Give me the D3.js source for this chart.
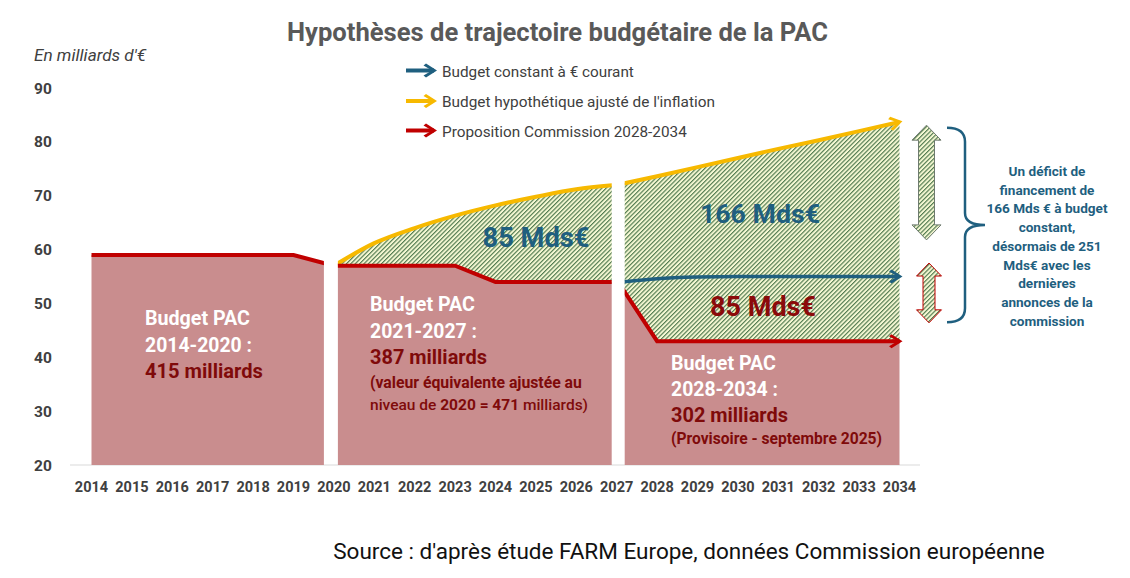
<!DOCTYPE html>
<html><head><meta charset="utf-8">
<script src="https://cdn.jsdelivr.net/npm/d3@7"></script>
<style>body{margin:0;background:#fff;} svg{display:block;font-family:Roboto,"Open Sans",sans-serif;}</style>
</head><body>
<svg id="c" width="1130" height="578"></svg>
<script>
// ---------- DATA ----------
const xTickYears = d3.range(2014, 2035);
const yTicks = [20, 30, 40, 50, 60, 70, 80, 90];

const p1Years = [2014, 2015, 2016, 2017, 2018, 2019, 2020];
const p1Commission = [59, 59, 59, 59, 59, 59, 57];

const p2Years = [2020, 2021, 2022, 2023, 2024, 2025, 2026, 2027];
const p2Commission = [57, 57, 57, 57, 54, 54, 54, 54];
const p2Inflation = [57, 61.2, 64, 66.3, 68.2, 69.8, 71.2, 72];

const p3Years = [2027, 2028, 2029, 2030, 2031, 2032, 2033, 2034];
const p3Commission = [54.4, 43, 43, 43, 43, 43, 43, 43];
const p3Inflation = [72, 73.6, 75.3, 77, 78.7, 80.3, 82, 83.7];
const p3Constant = [53.9, 54.6, 54.9, 55, 55, 55, 55, 55];

const legendLabels = ["Budget constant à € courant", "Budget hypothétique ajusté de l'inflation", "Proposition Commission 2028-2034"];
const gapArrowRanges = [[61.8, 83.1], [46.4, 57.5]];
const braceRange = [46.5, 82.6];
const noteLines = ["Un déficit de", "financement de", "166 Mds € à budget", "constant,", "désormais de 251", "Mds€ avec les", "dernières", "annonces de la", "commission"];

// ---------- STYLE ----------
const C = { red: "#c00000", yellow: "#f7b900", blue: "#1f5f7f", pink: "#c98d8e", darkred: "#7f0a0a", grayText: "#404040", title: "#595959" };

const svg = d3.select("#c");
const x = d3.scaleLinear().domain([2014, 2034]).range([91.5, 899.5]);
const y = d3.scaleLinear().domain([20, 90]).range([465, 88]);

function fit(sel, w) {
  sel.each(function () {
    const cur = parseFloat(this.getAttribute("font-size"));
    const len = this.getComputedTextLength();
    if (len > 0) this.setAttribute("font-size", (cur * w / len).toFixed(2));
  });
  return sel;
}

const defs = svg.append("defs");
const pat = defs.append("pattern").attr("id", "hatch").attr("patternUnits", "userSpaceOnUse")
  .attr("width", 3.1).attr("height", 3.1).attr("patternTransform", "rotate(45)");
pat.append("rect").attr("width", 3.1).attr("height", 3.1).attr("fill", "#f5f8d3");
pat.append("line").attr("x1", 0.6).attr("y1", 0).attr("x2", 0.6).attr("y2", 3.1).attr("stroke", "#3a683c").attr("stroke-width", 1.0);

function marker(id, color) {
  defs.append("marker").attr("id", id).attr("viewBox", "-16 -9 20 18").attr("refX", -3).attr("refY", 0)
    .attr("markerWidth", 20).attr("markerHeight", 18).attr("markerUnits", "userSpaceOnUse").attr("orient", "auto")
    .append("path").attr("d", "M0,0 L-11,-7 L-13.5,-5 L-5,0 L-13.5,5 L-11,7 Z").attr("fill", color);
}
marker("mRed", C.red); marker("mYellow", C.yellow); marker("mBlue", C.blue);

// clip regions per budget period
const clips = [
  ["clip1", x(2014) - 2, x(2020) - 10],
  ["clip2", x(2020) + 4, x(2027) - 5],
  ["clip3", x(2027) + 8, x(2034) + 20]
];
clips.forEach(([id, a, b]) => defs.append("clipPath").attr("id", id).append("rect")
  .attr("x", a).attr("y", 0).attr("width", b - a).attr("height", 578));

// ---------- TITLE & TEXTS ----------
fit(svg.append("text").attr("x", 557.5).attr("y", 41).attr("text-anchor", "middle")
  .attr("font-size", 24).attr("font-weight", 700).attr("fill", C.title)
  .text("Hypothèses de trajectoire budgétaire de la PAC"), 541);

fit(svg.append("text").attr("x", 34).attr("y", 61).attr("font-size", 15).attr("font-style", "italic")
  .attr("fill", C.grayText).text("En milliards d'€"), 112);

// y tick labels
svg.append("g").selectAll("text").data(yTicks).join("text")
  .attr("x", 34).attr("y", d => y(d) + 5.5).attr("font-size", 15.5).attr("font-weight", 700)
  .attr("fill", C.grayText).text(d => d);

// baseline
svg.append("line").attr("x1", 70).attr("x2", 920).attr("y1", y(20)).attr("y2", y(20))
  .attr("stroke", "#d9d9d9").attr("stroke-width", 1);

// x tick labels
svg.append("g").selectAll("text").data(xTickYears).join("text")
  .attr("x", d => x(d)).attr("y", 491.5).attr("text-anchor", "middle").attr("font-size", 14.5)
  .attr("font-weight", 700).attr("fill", C.grayText).text(d => d);

// ---------- AREAS ----------
const pts = (ys, vs) => ys.map((yr, i) => [yr, vs[i]]);
const pinkArea = d3.area().x(d => x(d[0])).y0(y(20)).y1(d => y(d[1]));
const line = (curve) => d3.line().x(d => x(d[0])).y(d => y(d[1])).curve(curve || d3.curveLinear);

// period 1
const g1 = svg.append("g").attr("clip-path", "url(#clip1)");
g1.append("path").attr("d", pinkArea(pts(p1Years, p1Commission))).attr("fill", C.pink);
g1.append("path").attr("d", line()(pts(p1Years, p1Commission))).attr("fill", "none").attr("stroke", C.red).attr("stroke-width", 4);

// period 2
const g2 = svg.append("g").attr("clip-path", "url(#clip2)");
g2.append("path").attr("d", d3.area().x(d => x(d[0])).y0(d => y(d[1])).y1(d => y(d[2])).curve(d3.curveMonotoneX)(p2Years.map((yr, i) => [yr, p2Commission[i], p2Inflation[i]]))).attr("fill", "url(#hatch)");
g2.append("path").attr("d", pinkArea(pts(p2Years, p2Commission))).attr("fill", C.pink);
g2.append("path").attr("d", line(d3.curveMonotoneX)(pts(p2Years, p2Inflation))).attr("fill", "none").attr("stroke", C.yellow).attr("stroke-width", 4);
g2.append("path").attr("d", line()(pts(p2Years, p2Commission))).attr("fill", "none").attr("stroke", C.red).attr("stroke-width", 4);

// period 3
const g3 = svg.append("g").attr("clip-path", "url(#clip3)");
g3.append("path").attr("d", d3.area().x(d => x(d[0])).y0(d => y(d[1])).y1(d => y(d[2]))(p3Years.map((yr, i) => [yr, p3Commission[i], p3Inflation[i]]))).attr("fill", "url(#hatch)");
g3.append("path").attr("d", pinkArea(pts(p3Years, p3Commission))).attr("fill", C.pink);
g3.append("path").attr("d", line()(pts(p3Years, p3Inflation))).attr("fill", "none").attr("stroke", C.yellow).attr("stroke-width", 4).attr("marker-end", "url(#mYellow)");
g3.append("path").attr("d", line(d3.curveMonotoneX)(pts(p3Years, p3Constant))).attr("fill", "none").attr("stroke", C.blue).attr("stroke-width", 3.5).attr("marker-end", "url(#mBlue)");
g3.append("path").attr("d", line()(pts(p3Years, p3Commission))).attr("fill", "none").attr("stroke", C.red).attr("stroke-width", 4).attr("marker-end", "url(#mRed)");

// ---------- LEGEND ----------
const legColors = [C.blue, C.yellow, C.red];
const legMarkers = ["mBlue", "mYellow", "mRed"];
const legY = [70.5, 101, 130.5];
const legW = [192, 273, 245];
legendLabels.forEach((t, i) => {
  svg.append("line").attr("x1", 406).attr("x2", 434).attr("y1", legY[i]).attr("y2", legY[i])
    .attr("stroke", legColors[i]).attr("stroke-width", 4).attr("marker-end", `url(#${legMarkers[i]})`);
  fit(svg.append("text").attr("x", 442).attr("y", legY[i] + 6).attr("font-size", 16).attr("fill", C.grayText).text(t), legW[i]);
});

// ---------- AREA LABELS ----------
function block(x0, lines) {
  lines.forEach(l => {
    const t = svg.append("text").attr("x", x0).attr("y", l.y).attr("font-size", l.size).attr("font-weight", 700).attr("fill", l.color);
    if (l.parts) l.parts.forEach(p => t.append("tspan").attr("font-weight", p.w).text(p.t));
    else t.text(l.t);
    if (l.w) fit(t, l.w);
  });
}
block(145, [
  { t: "Budget PAC", y: 325, size: 19, color: "#fff", w: 105 },
  { t: "2014-2020 :", y: 351.5, size: 19, color: "#fff", w: 107 },
  { t: "415 milliards", y: 378, size: 19, color: C.darkred, w: 118 }
]);
block(370, [
  { t: "Budget PAC", y: 311, size: 19, color: "#fff", w: 105 },
  { t: "2021-2027 :", y: 337.5, size: 19, color: "#fff", w: 107 },
  { t: "387 milliards", y: 364, size: 19, color: C.darkred, w: 117 },
  { t: "(valeur équivalente ajustée au", y: 388, size: 14, color: C.darkred, w: 212 },
  { parts: [{ t: "niveau de ", w: 500 }, { t: "2020 = 471", w: 700 }, { t: " milliards)", w: 500 }], y: 410, size: 14, color: C.darkred, w: 218 }
]);
block(671, [
  { t: "Budget PAC", y: 369.5, size: 19, color: "#fff", w: 105 },
  { t: "2028-2034 :", y: 396, size: 19, color: "#fff", w: 107 },
  { t: "302 milliards", y: 422, size: 19, color: C.darkred, w: 117 },
  { t: "(Provisoire - septembre 2025)", y: 443.5, size: 14, color: C.darkred, w: 211 }
]);

fit(svg.append("text").attr("x", 536).attr("y", 246.5).attr("text-anchor", "middle").attr("font-size", 26).attr("font-weight", 700).attr("fill", C.blue).text("85 Mds€"), 107);
fit(svg.append("text").attr("x", 760).attr("y", 223).attr("text-anchor", "middle").attr("font-size", 26).attr("font-weight", 700).attr("fill", C.blue).text("166 Mds€"), 120);
fit(svg.append("text").attr("x", 763).attr("y", 316).attr("text-anchor", "middle").attr("font-size", 26).attr("font-weight", 700).attr("fill", "#8b0a0a").text("85 Mds€"), 106);

// ---------- GAP ARROWS & BRACE ----------
const arrowGeom = [{ cx: 926.5, sw: 8, hw: 14.5, hl: 15, stroke: "#6e7a6e" }, { cx: 929, sw: 6, hw: 12.5, hl: 13, stroke: C.red }];
gapArrowRanges.forEach((r, i) => {
  const g = arrowGeom[i], top = y(r[1]), bot = y(r[0]), cx = g.cx;
  const p = d3.path();
  p.moveTo(cx, top); p.lineTo(cx + g.hw, top + g.hl); p.lineTo(cx + g.sw, top + g.hl);
  p.lineTo(cx + g.sw, bot - g.hl); p.lineTo(cx + g.hw, bot - g.hl); p.lineTo(cx, bot);
  p.lineTo(cx - g.hw, bot - g.hl); p.lineTo(cx - g.sw, bot - g.hl); p.lineTo(cx - g.sw, top + g.hl);
  p.lineTo(cx - g.hw, top + g.hl); p.closePath();
  svg.append("path").attr("d", p.toString()).attr("fill", "url(#hatch)").attr("stroke", g.stroke).attr("stroke-width", 1);
});
{
  const t = y(braceRange[1]), b = y(braceRange[0]), m = (t + b) / 2;
  const p = d3.path();
  p.moveTo(947, t); p.quadraticCurveTo(965, t, 965, t + 14); p.lineTo(965, m - 12);
  p.quadraticCurveTo(965, m, 985, m); p.quadraticCurveTo(965, m, 965, m + 12);
  p.lineTo(965, b - 14); p.quadraticCurveTo(965, b, 947, b);
  svg.append("path").attr("d", p.toString()).attr("fill", "none").attr("stroke", C.blue).attr("stroke-width", 2.5);
}
const note = svg.append("g");
noteLines.forEach((l, i) => {
  const t = note.append("text").attr("x", 1047).attr("y", 176 + i * 18.7).attr("text-anchor", "middle")
    .attr("font-size", 14).attr("font-weight", 700).attr("fill", C.blue).text(l);
  if (i === 2) fit(t, 121);
});
const ns = note.select("text:nth-child(3)").attr("font-size");
note.selectAll("text").attr("font-size", ns);

// ---------- SOURCE ----------
fit(svg.append("text").attr("x", 689).attr("y", 559).attr("text-anchor", "middle").attr("font-size", 20)
  .attr("fill", "#111").text("Source : d'après étude FARM Europe, données Commission européenne"), 712);
</script>
</body></html>
